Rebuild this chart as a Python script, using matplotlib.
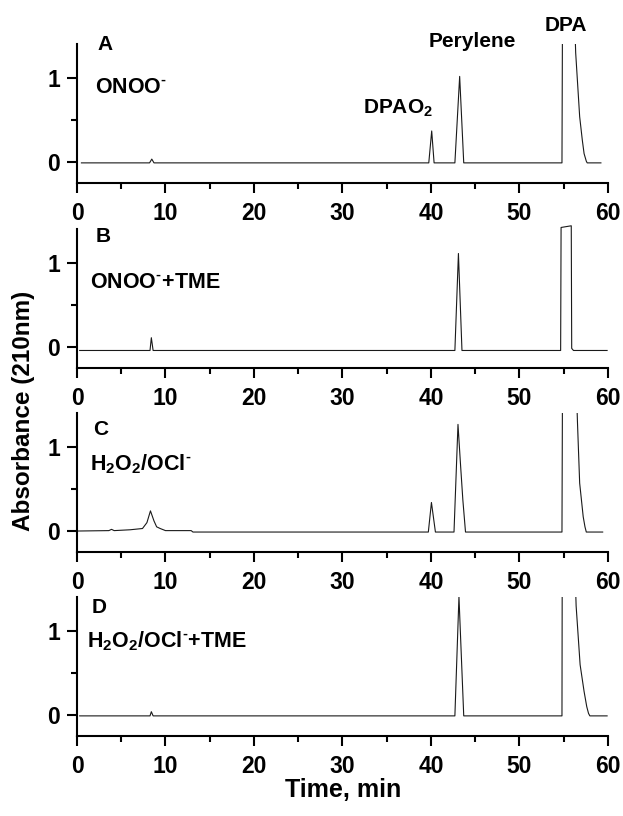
import matplotlib
matplotlib.use("Agg")
import matplotlib.pyplot as plt
from matplotlib.ticker import MultipleLocator, FixedLocator

plt.rcParams['font.family'] = ['Liberation Sans', 'DejaVu Sans']
plt.rcParams['font.weight'] = 'bold'
plt.rcParams['mathtext.fontset'] = 'custom'
plt.rcParams['mathtext.rm'] = 'Liberation Sans:bold'
plt.rcParams['mathtext.it'] = 'Liberation Sans:bold'
plt.rcParams['mathtext.bf'] = 'Liberation Sans:bold'

# chromatogram vertices (time in min, absorbance at 210 nm)
a_time = [0.5, 8.2, 8.45, 8.7, 39.75, 40.08, 40.35, 42.7, 43.24, 43.7,
          54.8, 54.9, 56.0, 56.35, 56.8, 57.1, 57.3, 57.55, 57.65, 59.2]
a_abs = [-0.01, -0.01, 0.035, -0.01, -0.01, 0.37, -0.01, -0.01, 1.02, -0.01,
         -0.01, 3.0, 2.5, 1.3, 0.54, 0.26, 0.1, 0.01, -0.01, -0.01]

b_time = [0.3, 8.25, 8.4, 8.6, 42.7, 43.1, 43.5, 54.65, 54.7, 55.85, 55.9,
          56.1, 59.9]
b_abs = [-0.045, -0.045, 0.107, -0.045, -0.045, 1.11, -0.045, -0.045, 1.42,
         1.44, -0.02, -0.045, -0.045]

c_time = [0.0, 3.6, 3.9, 4.2, 6.0, 7.4, 7.9, 8.3, 8.7, 9.0, 9.4, 10.0, 12.9,
          13.1, 39.7, 40.05, 40.5, 42.6, 43.05, 43.35, 43.6, 43.9, 54.8, 54.9,
          56.2, 56.55, 56.8, 57.2, 57.4, 57.55, 59.4]
c_abs = [0.0, 0.005, 0.02, 0.005, 0.015, 0.03, 0.1, 0.24, 0.12, 0.05, 0.03,
         0.005, 0.005, -0.012, -0.012, 0.34, -0.012, -0.012, 1.27, 0.77, 0.37,
         -0.012, -0.012, 3.0, 2.5, 1.3, 0.57, 0.17, 0.05, -0.012, -0.012]

d_time = [0.3, 8.25, 8.4, 8.6, 42.7, 43.16, 43.7, 54.8, 54.85, 56.05, 56.4,
          56.85, 57.3, 57.6, 57.8, 57.95, 59.9]
d_abs = [-0.01, -0.01, 0.04, -0.01, -0.01, 1.41, -0.01, -0.01, 3.0, 2.5, 1.3,
         0.6, 0.28, 0.1, 0.02, -0.01, -0.01]

traces = [(a_time, a_abs), (b_time, b_abs), (c_time, c_abs), (d_time, d_abs)]
letters = ['A', 'B', 'C', 'D']
conditions = [r'ONOO$^{\text{-}}$', r'ONOO$^{\text{-}}$+TME',
              r'H$_2$O$_2$/OCl$^{\text{-}}$',
              r'H$_2$O$_2$/OCl$^{\text{-}}$+TME']

fig = plt.figure(figsize=(6.23, 8.16), dpi=100)

bottoms = [0.7757, 0.5494, 0.3235, 0.098]
letter_pos = [(3.2, 1.333), (3.0, 1.245), (2.65, 1.14), (2.55, 1.21)]
cond_pos = [(2.0, 0.825), (1.42, 0.70), (1.47, 0.726), (1.1, 0.80)]

for i in range(4):
    ax = fig.add_axes([0.1236, bottoms[i], 0.8523, 0.1703])
    t, y = traces[i]
    ax.plot(t, y, color='#1a1a1a', lw=0.8, clip_on=(i != 1))
    ax.set_xlim(0, 60)
    ax.set_ylim(-0.25, 1.405)
    ax.spines['top'].set_visible(False)
    ax.spines['right'].set_visible(False)
    for s in ['left', 'bottom']:
        ax.spines[s].set_linewidth(1.5)
    ax.xaxis.set_major_locator(MultipleLocator(10))
    ax.xaxis.set_minor_locator(MultipleLocator(5))
    ax.yaxis.set_major_locator(FixedLocator([0, 1]))
    ax.yaxis.set_minor_locator(FixedLocator([0.5]))
    ax.tick_params(which='major', direction='out', length=7, width=1.5,
                   labelsize=16.5)
    ax.tick_params(which='minor', direction='out', length=4, width=1.5)
    ax.tick_params(axis='x', which='major', pad=7)
    ax.tick_params(axis='y', which='major', pad=5)
    for lab in ax.get_xticklabels() + ax.get_yticklabels():
        lab.set_fontweight('bold')

    ax.text(letter_pos[i][0], letter_pos[i][1], letters[i], fontsize=15,
            fontweight='bold', ha='center', va='baseline')
    ax.text(cond_pos[i][0], cond_pos[i][1], conditions[i], fontsize=15.5,
            fontweight='bold', ha='left', va='baseline')

    if i == 0:
        ax.text(39.7, 1.37, 'Perylene', fontsize=15, fontweight='bold',
                ha='left', va='baseline', clip_on=False)
        ax.text(52.8, 1.56, 'DPA', fontsize=15, fontweight='bold',
                ha='left', va='baseline', clip_on=False)
        ax.text(40.2, 0.58, r'DPAO$_2$', fontsize=15, fontweight='bold',
                ha='right', va='baseline')

fig.text(0.0385, 0.496, 'Absorbance (210nm)', rotation=90, fontsize=17.5,
         fontweight='bold', ha='center', va='center')
fig.text(0.5515, 0.032, 'Time, min', fontsize=18, fontweight='bold',
         ha='center', va='center')

fig.savefig('out.png', dpi=100)
